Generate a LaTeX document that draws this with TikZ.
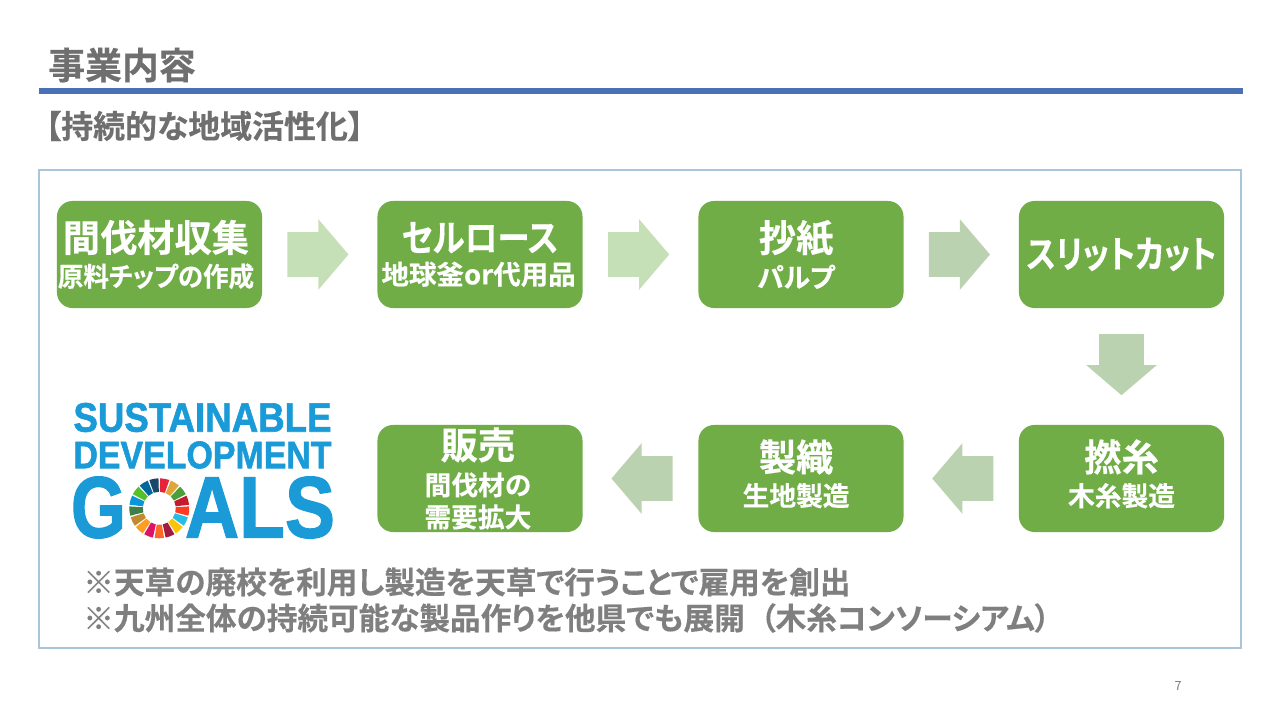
\documentclass[tikz,border=0pt]{standalone}
\usepackage{fontspec}
\usepackage{xcolor}
\setmainfont{Noto Sans CJK JP}[BoldFont={Noto Sans CJK JP Bold},BoldFeatures={FakeBold=0.4},RawFeature={+palt}]
\newfontfamily\logofont{Liberation Sans}[BoldFeatures={FakeBold=1.5}]
\usetikzlibrary{shapes,arrows}
\definecolor{boxgreen}{HTML}{70AD47}
\definecolor{textgray}{HTML}{6F6F6F}
\definecolor{notegray}{HTML}{7F7F7F}
\definecolor{framecol}{HTML}{A9C5DA}
\definecolor{rulecol}{HTML}{4A70B5}
\definecolor{logoblue}{HTML}{1A9BD7}
\definecolor{arrowlight}{HTML}{C5DFB6}
\definecolor{arrowdark}{HTML}{BBD2B0}
\tikzset{
	greenbox/.style={draw=none,fill=boxgreen,rounded corners=11pt,minimum width=5.125cm,minimum height=2.675cm,inner sep=0pt,text=white,align=center,font=\bfseries},
	flowarrow/.style={single arrow,draw=none,inner xsep=0pt,inner ysep=0.55cm,minimum height=1.525cm,single arrow head extend=0.325cm,single arrow tip angle=99,single arrow head indent=0cm},
	bigtxt/.style={inner sep=0pt,anchor=west,font=\bfseries},
}
\newcommand{\hdtxt}[1]{{\fontsize{26.5pt}{30pt}\selectfont #1}}
\newcommand{\subtxt}[1]{{\fontsize{19pt}{25pt}\selectfont #1}}
\newcommand{\logotxt}[3]{\resizebox{#1}{#2}{\logofont\bfseries #3}}
\newcommand{\liftup}{\\[-3.6pt]\mbox{}}
\begin{document}
\begin{tikzpicture}[x=0.025cm,y=-0.025cm]
		\useasboundingbox (0,0) rectangle (1280,720);
		\fill[white] (0,0) rectangle (1280,720);
		% header
		\node[bigtxt,text=textgray,font=\bfseries\fontsize{26.2pt}{30pt}\selectfont] (title) at (48,65) {事業内容};
		\fill[rulecol] (39,88) rectangle (1243,94);
		\node[bigtxt,text=textgray,font=\bfseries\fontsize{22.7pt}{25pt}\selectfont] (subtitle) at (45,126) {【持続的な地域活性化】};
		\draw[framecol,line width=1.3pt] (39,170) rectangle (1241,648);
		% flow boxes
		\node[greenbox] (collect) at (159.5,254.5) {\hdtxt{間伐材収集\kern5pt}\\[5pt]\subtxt{\scalebox{.955}[1]{原料チップの作成}\kern5pt}};
		\node[greenbox] (cellulose) at (480,254.5) {\hdtxt{\scalebox{.875}[1]{セルロース}}\\[5pt]\subtxt{\scalebox{1.03}[1]{地球釜or代用品}\kern2pt}};
		\node[greenbox] (paper) at (801,254.5) {\hdtxt{抄紙\kern7pt}\\[5pt]\subtxt{パルプ\kern7pt}};
		\node[greenbox] (slit) at (1121.5,254.5) {\hdtxt{\raisebox{1.5pt}{\scalebox{.838}[1]{スリットカット}}}};
		\node[greenbox] (twist) at (1121.5,478.5) {\hdtxt{撚糸}\\[5pt]\subtxt{木糸製造}\liftup};
		\node[greenbox] (weave) at (801,478.5) {\hdtxt{製織\kern7pt}\\[5pt]\subtxt{生地製造\kern7pt}\liftup};
		\node[greenbox] (sales) at (480,478.5) {\hdtxt{販売\kern3pt}\\[6pt]\subtxt{間伐材の\kern3pt}\\[4pt]\subtxt{需要拡大\kern3pt}};
		% block arrows between the boxes
		\path (collect) -- node[pos=.48,flowarrow,xshift=-0.225cm,fill=arrowlight] (a1) {} (cellulose);
		\path (cellulose) -- node[pos=.48,flowarrow,xshift=-0.225cm,fill=arrowlight] (a2) {} (paper);
		\path (paper) -- node[pos=.48,flowarrow,xshift=-0.225cm,fill=arrowdark] (a3) {} (slit);
		\path (slit) -- node[pos=.48,flowarrow,inner xsep=0.55cm,inner ysep=0pt,yshift=0.225cm,shape border rotate=270,fill=arrowdark] (a4) {} (twist);
		\path (twist) -- node[flowarrow,xshift=0.275cm,shape border rotate=180,fill=arrowdark] (a5) {} (weave);
		\path (weave) -- node[flowarrow,xshift=0.275cm,shape border rotate=180,fill=arrowdark] (a6) {} (sales);
		% logo
		\node[inner sep=0pt,text=logoblue] (logo1) at (202.5,417.5) {\logotxt{6.45cm}{0.72cm}{SUSTAINABLE}};
		\node[inner sep=0pt,text=logoblue] (logo2) at (202.5,455) {\logotxt{6.45cm}{0.67cm}{DEVELOPMENT}};
		\node[inner sep=0pt,text=logoblue] (logo3) at (98.5,507.5) {\logotxt{1.38cm}{1.52cm}{G}};
		\node[inner sep=0pt,text=logoblue] (logo4) at (260,507.5) {\logotxt{3.75cm}{1.52cm}{ALS}};
		\def\rin{16.5}
		\def\rout{30}
		\foreach \i/\c in {0/E5243B,1/DDA63A,2/4C9F38,3/C5192D,4/FF3A21,5/26BDE2,6/FCC30B,7/A21942,8/FD6925,9/DD1367,10/FD9D24,11/BF8B2E,12/3F7E44,13/0A97D9,14/56C02B,15/00689D,16/19486A}{
			\definecolor{wedge}{HTML}{\c}
			\pgfmathsetmacro{\sa}{-(90-\i*360/17-1.6)}
			\pgfmathsetmacro{\ea}{-(90-(\i+1)*360/17+1.6)}
			\fill[wedge] (159.3,508.3) ++(\sa:\rout) arc[start angle=\sa,end angle=\ea,radius=\rout] -- ++(\ea:\rin-\rout) arc[start angle=\ea,end angle=\sa,radius=\rin] -- cycle;
		}
		% notes
		\node[bigtxt,text=notegray,font=\bfseries\fontsize{21.8pt}{25pt}\selectfont] (note1) at (83,582) {※天草の廃校を利用し製造を天草で行うことで雇用を創出};
		\node[bigtxt,text=notegray,font=\bfseries\fontsize{21.8pt}{25pt}\selectfont] (note2) at (83,618) {※九州全体の持続可能な製品作りを他県でも展開\hspace{11pt}（木糸コンソーシアム）};
		\node[inner sep=0pt,text=gray,font=\fontsize{9pt}{11pt}\selectfont] (pageno) at (1178,686) {7};
		\end{tikzpicture}
\end{document}
